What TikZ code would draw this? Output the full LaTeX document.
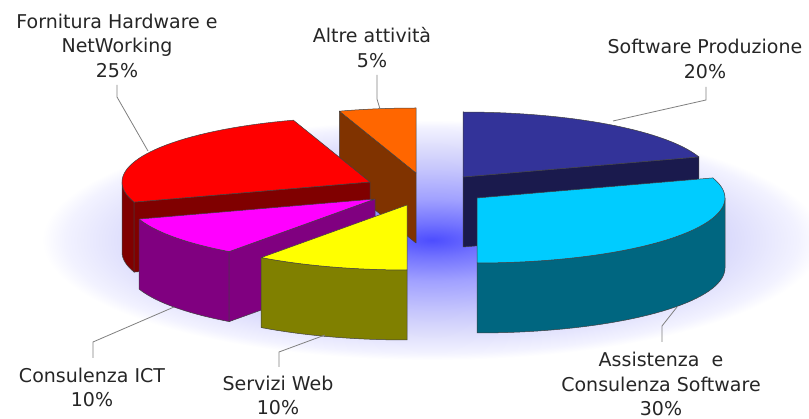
\documentclass[tikz,border=0pt]{standalone}
\usepackage{fontspec}
\setmainfont{DejaVu Sans}
\definecolor{gA}{rgb}{0.30,0.30,1}
\definecolor{gB}{rgb}{0.45,0.45,1}
\definecolor{gC}{rgb}{0.63,0.63,1}
\definecolor{gD}{rgb}{0.78,0.78,0.99}
\definecolor{gE}{rgb}{0.88,0.88,0.99}
\definecolor{gF}{rgb}{0.95,0.95,1}
\pgfdeclareradialshading{glow}{\pgfpoint{0bp}{0bp}}{color(0bp)=(gA); color(3.5bp)=(gB); color(8.5bp)=(gC); color(15bp)=(gD); color(20bp)=(gE); color(23.5bp)=(gF); color(25bp)=(white); color(50bp)=(white)}
\definecolor{navyT}{HTML}{333399}\definecolor{navyS}{HTML}{1A1A4D}
\definecolor{cyanT}{HTML}{00CCFF}\definecolor{cyanS}{HTML}{006680}
\definecolor{yelT}{HTML}{FFFF00}\definecolor{yelS}{HTML}{808000}
\definecolor{magT}{HTML}{FF00FF}\definecolor{magS}{HTML}{800080}
\definecolor{redT}{HTML}{FF0000}\definecolor{redS}{HTML}{800000}
\definecolor{oraT}{HTML}{FF6600}\definecolor{oraS}{HTML}{803300}
\def\RR{248}\def\rr{65}\def\hh{70}
\newcommand\topface[5]{\filldraw[edge,fill=#5] (#3,#4) -- plot[domain=#1:#2,samples=40] ({#3+\RR*sin(\x)},{#4-\rr*cos(\x)}) -- cycle;}
\newcommand\outerside[5]{\filldraw[edge,fill=#5] plot[domain=#1:#2,samples=40] ({#3+\RR*sin(\x)},{#4-\rr*cos(\x)}) -- plot[domain=#2:#1,samples=40] ({#3+\RR*sin(\x)},{#4-\rr*cos(\x)+\hh}) -- cycle;}
\newcommand\radface[4]{\filldraw[edge,fill=#4] (#2,#3) -- ({#2+\RR*sin(#1)},{#3-\rr*cos(#1)}) -- ({#2+\RR*sin(#1)},{#3-\rr*cos(#1)+\hh}) -- (#2,{#3+\hh}) -- cycle;}
\begin{document}
\begin{tikzpicture}[x=1pt,y=-1pt,
  edge/.style={draw=black!75,line width=0.5pt,line join=round},
  leader/.style={draw=black!50,line width=0.8pt},
  lbl/.style={align=center,font=\fontsize{19}{24.5}\selectfont,text=black!85,inner sep=0pt}]
\useasboundingbox (0,0) rectangle (809,419);
\fill[white] (0,0) rectangle (809,419);
\shade[shading=glow] (432,240) ellipse [x radius=390, y radius=120];
% orange (Altre attivita)
\radface{342}{416}{173}{oraS}
\topface{342}{360}{416}{173}{oraT}
% navy (Software Produzione)
\radface{72}{463}{177}{navyS}
\topface{0}{72}{463}{177}{navyT}
% red (Fornitura)
\outerside{252}{270}{370}{182}{redS}
\radface{252}{370}{182}{redS}
\topface{252}{342}{370}{182}{redT}
% magenta (Consulenza ICT)
\outerside{216}{252}{375}{199}{magS}
\radface{216}{375}{199}{magS}
\topface{216}{252}{375}{199}{magT}
% yellow (Servizi Web)
\outerside{180}{216}{407}{205}{yelS}
\topface{180}{216}{407}{205}{yelT}
% cyan (Assistenza)
\outerside{90}{180}{477}{198}{cyanS}
\topface{72}{180}{477}{198}{cyanT}
% labels
\node[lbl] (lF) at (117,45.5) {Fornitura Hardware e\\NetWorking\\25\%};
\node[lbl] (lA) at (372,47.5) {Altre attività\\5\%};
\node[lbl] (lS) at (705,59) {Software Produzione\\20\%};
\node[lbl] (lC) at (92,387.5) {Consulenza ICT\\10\%};
\node[lbl] (lW) at (278,395.5) {Servizi Web\\10\%};
\node[lbl] (lX) at (661,384) {Assistenza\ \ e\\Consulenza Software\\30\%};
% leader points
\coordinate (fA) at (117,85); \coordinate (fB) at (117,97); \coordinate (fC) at (148,151);
\coordinate (aA) at (377,75); \coordinate (aB) at (377,99); \coordinate (aC) at (380,109);
\coordinate (sA) at (706,87); \coordinate (sB) at (706,100); \coordinate (sC) at (613,121);
\coordinate (cA) at (93,358); \coordinate (cB) at (93,342); \coordinate (cC) at (174,307);
\coordinate (wA) at (279,367); \coordinate (wB) at (279,352); \coordinate (wC) at (325,335);
\coordinate (xA) at (662,342); \coordinate (xB) at (662,326); \coordinate (xC) at (677,307);
\draw[leader] (fA) -- (fB) -- (fC);
\draw[leader] (aA) -- (aB) -- (aC);
\draw[leader] (sA) -- (sB) -- (sC);
\draw[leader] (cA) -- (cB) -- (cC);
\draw[leader] (wA) -- (wB) -- (wC);
\draw[leader] (xA) -- (xB) -- (xC);
\end{tikzpicture}
\end{document}
